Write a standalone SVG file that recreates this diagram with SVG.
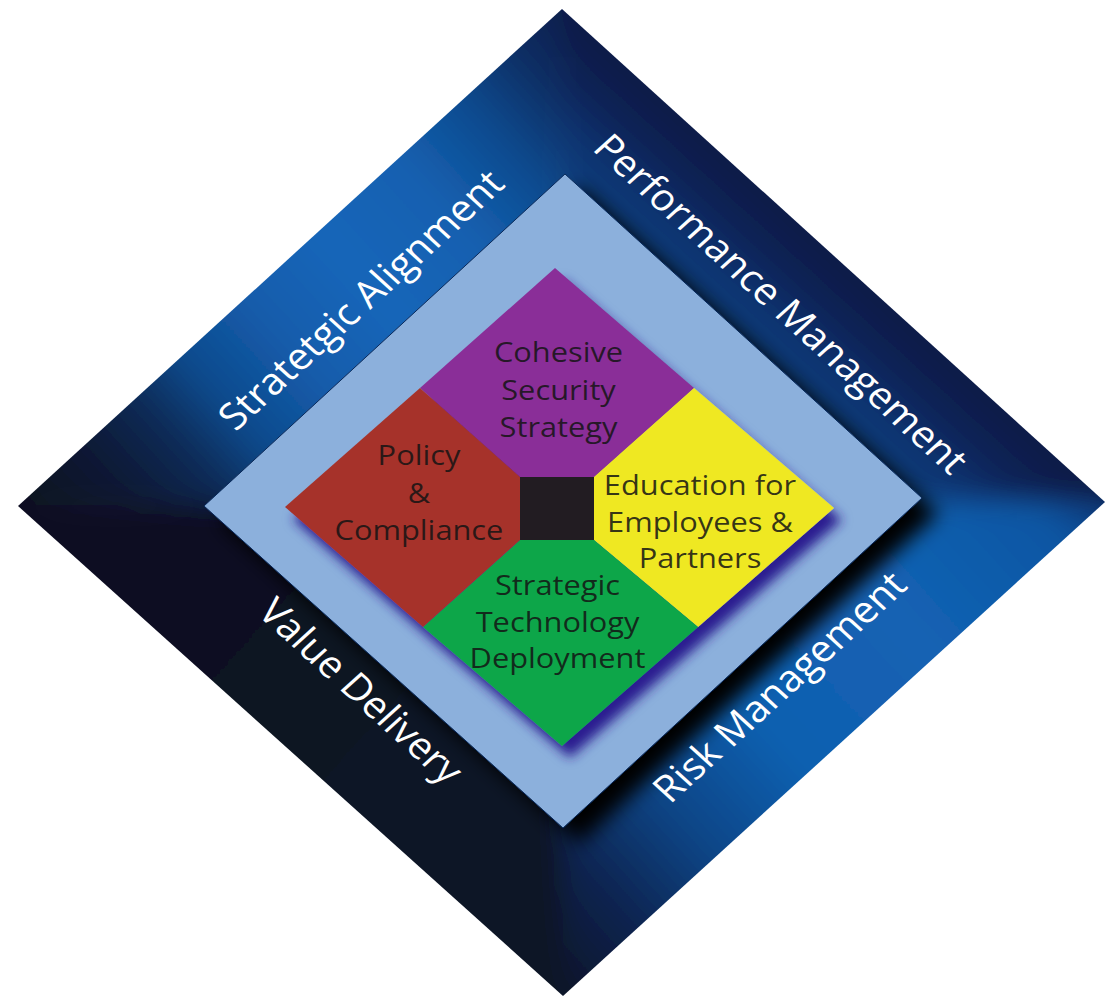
<svg xmlns="http://www.w3.org/2000/svg" width="1108" height="998" viewBox="0 0 1108 998">
  <defs>
    <style>
      .band-label { fill: #ffffff; font-family: "Open Sans", "Noto Sans", "DejaVu Sans", sans-serif; font-size: 37px; text-anchor: middle; }
      .seg-label { fill: #141414; fill-opacity: 0.86; font-family: "Open Sans", "Noto Sans", "DejaVu Sans", sans-serif; font-size: 28px; font-weight: 500; text-anchor: middle; }
    </style>

    <!-- outer frame: one gradient per side, running along (or across) that side -->
    <linearGradient id="gradUL" gradientUnits="userSpaceOnUse" x1="18" y1="506" x2="562" y2="9">
      <stop offset="0" stop-color="#0b101e"/>
      <stop offset="0.13" stop-color="#0c1a36"/>
      <stop offset="0.22" stop-color="#0d2b57"/>
      <stop offset="0.30" stop-color="#0f4a8c"/>
      <stop offset="0.42" stop-color="#135cab"/>
      <stop offset="0.55" stop-color="#1566b9"/>
      <stop offset="0.70" stop-color="#1360b0"/>
      <stop offset="0.82" stop-color="#0f4a8e"/>
      <stop offset="0.92" stop-color="#0c2d62"/>
      <stop offset="1" stop-color="#0a1f4e"/>
    </linearGradient>
    <linearGradient id="gradUR" gradientUnits="userSpaceOnUse" x1="743" y1="336" x2="824" y2="247">
      <stop offset="0" stop-color="#0d3c7a"/>
      <stop offset="0.3" stop-color="#0c3370"/>
      <stop offset="0.6" stop-color="#0b2458"/>
      <stop offset="1" stop-color="#0a1a46"/>
    </linearGradient>
    <linearGradient id="gradLR" gradientUnits="userSpaceOnUse" x1="1105" y1="502" x2="563" y2="996">
      <stop offset="0" stop-color="#0c3878"/>
      <stop offset="0.08" stop-color="#0f56a3"/>
      <stop offset="0.30" stop-color="#1262b3"/>
      <stop offset="0.55" stop-color="#1160b0"/>
      <stop offset="0.72" stop-color="#0d4586"/>
      <stop offset="0.86" stop-color="#0c2450"/>
      <stop offset="1" stop-color="#0c1428"/>
    </linearGradient>
    <linearGradient id="gradLL" gradientUnits="userSpaceOnUse" x1="563" y1="996" x2="18" y2="506">
      <stop offset="0" stop-color="#0d1428"/>
      <stop offset="0.5" stop-color="#0e1224"/>
      <stop offset="1" stop-color="#0c1020"/>
    </linearGradient>

    <clipPath id="frameClip">
      <polygon points="562,9 1105,502 563,996 18,506"/>
    </clipPath>

    <!-- softens the joins where two sides of the frame meet -->
    <filter id="soften" filterUnits="userSpaceOnUse" x="-200" y="-200" width="1508" height="1398">
      <feGaussianBlur stdDeviation="13"/>
    </filter>

    <!-- black drop shadow under the light-blue panel -->
    <filter id="panelShadow" x="-10%" y="-10%" width="125%" height="125%">
      <feGaussianBlur in="SourceAlpha" stdDeviation="10" result="blur"/>
      <feOffset in="blur" dx="16" dy="15" result="off"/>
      <feFlood flood-color="#000000" flood-opacity="1"/>
      <feComposite in2="off" operator="in" result="shadow"/>
      <feMerge>
        <feMergeNode in="shadow"/>
        <feMergeNode in="SourceGraphic"/>
      </feMerge>
    </filter>

    <!-- blue-violet drop shadow under the coloured diamond -->
    <filter id="coreShadow" x="-10%" y="-10%" width="125%" height="125%">
      <feGaussianBlur in="SourceAlpha" stdDeviation="6" result="blur"/>
      <feOffset in="blur" dx="8" dy="12" result="off"/>
      <feFlood flood-color="#2b1f90" flood-opacity="1"/>
      <feComposite in2="off" operator="in" result="shadow"/>
      <feMerge>
        <feMergeNode in="shadow"/>
        <feMergeNode in="SourceGraphic"/>
      </feMerge>
    </filter>
  </defs>

  <rect width="1108" height="998" fill="#ffffff"/>

  <!-- outer frame: four sides, each a wedge from the centre, clipped to the diamond -->
  <g id="frame" clip-path="url(#frameClip)">
    <g filter="url(#soften)">
      <g id="band-strategic-alignment">
        <polygon points="563,503 -527,509 561,-485" fill="url(#gradUL)"/>
      </g>
      <g id="band-performance-management">
        <polygon points="563,503 561,-485 1647,501" fill="url(#gradUR)"/>
      </g>
      <g id="band-risk-management">
        <polygon points="563,503 1647,501 563,1489" fill="url(#gradLR)"/>
      </g>
      <g id="band-value-delivery">
        <polygon points="563,503 563,1489 -527,509" fill="url(#gradLL)"/>
      </g>
    </g>
  </g>

  <!-- light-blue panel -->
  <g id="panel" filter="url(#panelShadow)">
    <polygon points="565,174 922,498 563,828 204,506" fill="#8cb0dc" stroke="#0b2a5a" stroke-width="1"/>
  </g>

  <!-- side labels -->
  <g id="frame-labels">
    <g id="label-strategic-alignment">
      <text class="band-label" transform="translate(371,309) scale(1.1,1) rotate(-45)">Stratetgic Alignment</text>
    </g>
    <g id="label-performance-management">
      <text class="band-label" transform="translate(771,313) scale(1.1,1) rotate(45)">Performance Management</text>
    </g>
    <g id="label-value-delivery">
      <text class="band-label" transform="translate(351,700) scale(1.1,1) rotate(45)">Value Delivery</text>
    </g>
    <g id="label-risk-management">
      <text class="band-label" transform="translate(789.5,696) scale(1.1,1) rotate(-45)">Risk Management</text>
    </g>
  </g>

  <!-- coloured core -->
  <g id="core" filter="url(#coreShadow)">
    <g id="seg-strategy">
      <polygon points="555,268 694,388 594,477 520,477 420,388" fill="#8a2f98"/>
    </g>
    <g id="seg-education">
      <polygon points="694,388 834,508 698,627 594,540 594,477" fill="#efe820"/>
    </g>
    <g id="seg-technology">
      <polygon points="594,540 698,627 562,746 423,627 520,540" fill="#0fa64a"/>
    </g>
    <g id="seg-policy">
      <polygon points="420,388 520,477 520,540 423,627 285,507" fill="#a6332c"/>
    </g>
    <g id="center">
      <rect x="520" y="477" width="74" height="63" fill="#231f20"/>
    </g>
  </g>

  <!-- segment labels -->
  <g id="core-labels">
    <text class="seg-label" transform="translate(558.5,362) scale(1.1,1)"><tspan x="0" y="0">Cohesive</tspan><tspan x="0" y="38">Security</tspan><tspan x="0" y="75">Strategy</tspan></text>
    <text class="seg-label" transform="translate(419,465) scale(1.1,1)"><tspan x="0" y="0">Policy</tspan><tspan x="0" y="38">&amp;</tspan><tspan x="0" y="75">Compliance</tspan></text>
    <text class="seg-label" transform="translate(700,495) scale(1.1,1)"><tspan x="0" y="0">Education for</tspan><tspan x="0" y="37">Employees &amp;</tspan><tspan x="0" y="73">Partners</tspan></text>
    <text class="seg-label" transform="translate(557.5,595) scale(1.1,1)"><tspan x="0" y="0">Strategic</tspan><tspan x="0" y="37">Technology</tspan><tspan x="0" y="73">Deployment</tspan></text>
  </g>

  <g id="connectors"/>
</svg>
